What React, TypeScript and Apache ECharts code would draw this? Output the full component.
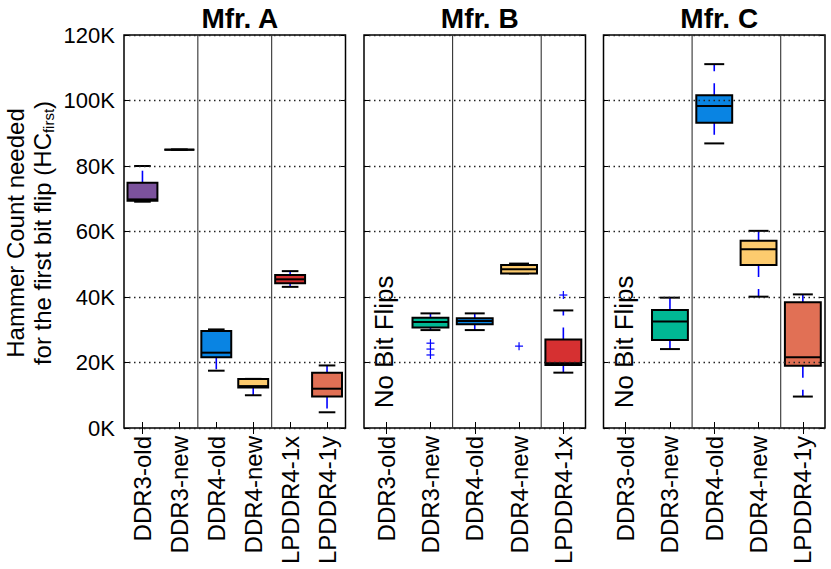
import React, { useEffect, useRef } from "react";
import * as echarts from "echarts";

const panelTitles = ["Mfr. A", "Mfr. B", "Mfr. C"];
const categoriesA = ["DDR3-old", "DDR3-new", "DDR4-old", "DDR4-new", "LPDDR4-1x", "LPDDR4-1y"];
const categoriesB = ["DDR3-old", "DDR3-new", "DDR4-old", "DDR4-new", "LPDDR4-1x"];
const categoriesC = ["DDR3-old", "DDR3-new", "DDR4-old", "DDR4-new", "LPDDR4-1y"];

// [min, q1, median, q3, max] in thousands of hammers (null = no bit flips)
const boxesA = [
  [69.1, 69.4, 69.8, 74.9, 80.0],
  [85.0, 85.0, 85.0, 85.0, 85.0],
  [17.5, 21.6, 23.0, 29.6, 30.1],
  [10.0, 12.4, 12.8, 15.0, 15.0],
  [43.1, 44.2, 45.4, 46.7, 47.9],
  [4.8, 9.6, 12.0, 16.9, 19.1],
];
const boxesB = [
  null,
  [29.9, 30.7, 32.4, 33.7, 35.0],
  [29.9, 31.7, 32.7, 33.5, 35.0],
  [47.2, 47.2, 48.5, 49.8, 50.2],
  [16.9, 19.2, 19.8, 27.0, 35.9],
];
const boxesC = [
  null,
  [24.1, 26.9, 32.5, 36.0, 39.8],
  [86.9, 93.2, 98.3, 101.6, 111.1],
  [40.1, 49.8, 54.6, 57.2, 60.2],
  [9.6, 19.0, 21.6, 38.4, 40.8],
];
// [category index, value]
const outliersA: number[][] = [];
const outliersB = [
  [1, 25.9],
  [1, 24.1],
  [1, 22.3],
  [3, 25.0],
  [4, 40.6],
];
const outliersC: number[][] = [];
// separator lines drawn after these category indices
const separatorsA = [1, 3];
const separatorsB = [1, 3];
const separatorsC = [1, 3];
// "No Bit Flips" annotation: [category index, starting value]
const noFlipsB = [[0, 6]];
const noFlipsC = [[0, 6]];
const noFlipsText = "No Bit Flips";

const yTickMax = 120;
const yTickStep = 20;

const deviceColors: Record<string, string> = {
  "DDR3-old": "#7b529c",
  "DDR3-new": "#00b894",
  "DDR4-old": "#0984e3",
  "DDR4-new": "#fdcb6e",
  "LPDDR4-1x": "#d63031",
  "LPDDR4-1y": "#e17055",
};

const FONT = "'Liberation Sans', Arial, Helvetica, sans-serif";

export default function App() {
  const ref = useRef<HTMLDivElement>(null);

  useEffect(() => {
    document.body.style.margin = "0";
    if (!ref.current) return;
    const chart = echarts.init(ref.current, undefined, { renderer: "svg" });

    const panels = [
      { cats: categoriesA, boxes: boxesA, outliers: outliersA, seps: separatorsA, noFlips: [] as number[][] },
      { cats: categoriesB, boxes: boxesB, outliers: outliersB, seps: separatorsB, noFlips: noFlipsB },
      { cats: categoriesC, boxes: boxesC, outliers: outliersC, seps: separatorsC, noFlips: noFlipsC },
    ];
    const gridLefts = [124, 364, 603.5];
    const gridWidth = 221.5;
    const gridTop = 35;
    const gridHeight = 393;

    const boxRender = (params: any, api: any) => {
      const idx = api.value(0);
      const ys = [1, 2, 3, 4, 5].map((d) => api.coord([idx, api.value(d)])[1]);
      const x = api.coord([idx, api.value(1)])[0];
      const band = api.size([1, 0])[0];
      const bw = band * 0.81;
      const cw = band * 0.45;
      const [yMin, yQ1, yMed, yQ3, yMax] = ys;
      const color = api.visual("color");
      const whisk = { stroke: "#0000ff", lineWidth: 1.6, lineDash: [12, 12] };
      const blk = { stroke: "#000", lineWidth: 2 };
      const children: any[] = [];
      if (yMin - yQ1 > 0.5)
        children.push({ type: "line", shape: { x1: x, y1: yQ1, x2: x, y2: yMin }, style: whisk });
      if (yQ3 - yMax > 0.5)
        children.push({ type: "line", shape: { x1: x, y1: yQ3, x2: x, y2: yMax }, style: whisk });
      children.push({ type: "line", shape: { x1: x - cw / 2, y1: yMin, x2: x + cw / 2, y2: yMin }, style: blk });
      children.push({ type: "line", shape: { x1: x - cw / 2, y1: yMax, x2: x + cw / 2, y2: yMax }, style: blk });
      children.push({
        type: "rect",
        shape: { x: x - bw / 2, y: yQ3, width: bw, height: Math.max(0, yQ1 - yQ3) },
        style: { fill: color, stroke: "#000", lineWidth: 2 },
      });
      children.push({ type: "line", shape: { x1: x - bw / 2, y1: yMed, x2: x + bw / 2, y2: yMed }, style: blk });
      return { type: "group", children };
    };

    const outlierRender = (params: any, api: any) => {
      const p = api.coord([api.value(0), api.value(1)]);
      const s = 4;
      const st = { stroke: "#0000ff", lineWidth: 1.2 };
      return {
        type: "group",
        children: [
          { type: "line", shape: { x1: p[0] - s, y1: p[1], x2: p[0] + s, y2: p[1] }, style: st },
          { type: "line", shape: { x1: p[0], y1: p[1] - s, x2: p[0], y2: p[1] + s }, style: st },
        ],
      };
    };

    const sepRender = (params: any, api: any) => {
      const p = api.coord([api.value(0), 0]);
      const band = api.size([1, 0])[0];
      const cs = params.coordSys;
      const x = p[0] + band / 2;
      return {
        type: "line",
        shape: { x1: x, y1: cs.y, x2: x, y2: cs.y + cs.height },
        style: { stroke: "#333", lineWidth: 1.1 },
      };
    };

    const noFlipRender = (params: any, api: any) => {
      const p = api.coord([api.value(0), api.value(1)]);
      return {
        type: "text",
        x: p[0] - 2,
        y: p[1],
        rotation: Math.PI / 2,
        style: {
          text: noFlipsText,
          fontSize: 26,
          fontFamily: FONT,
          fill: "#000",
          align: "left",
          verticalAlign: "middle",
          textAlign: "left",
          textVerticalAlign: "middle",
        },
      };
    };

    const grid: any[] = [];
    const xAxis: any[] = [];
    const yAxis: any[] = [];
    const series: any[] = [];

    panels.forEach((pn, i) => {
      grid.push({
        left: gridLefts[i],
        top: gridTop,
        width: gridWidth,
        height: gridHeight,
        show: true,
        borderColor: "#000",
        borderWidth: 1.5,
        backgroundColor: "transparent",
      });
      const tick = { show: true, inside: true, alignWithLabel: true, length: 6, lineStyle: { color: "#000", width: 1 } };
      xAxis.push({
        type: "category",
        gridIndex: i,
        data: pn.cats,
        position: "bottom",
        axisLine: { show: false },
        axisTick: tick,
        axisLabel: { rotate: 90, fontSize: 24, color: "#000", fontFamily: FONT, margin: 8, interval: 0 },
        splitLine: { show: false },
      });
      xAxis.push({
        type: "category",
        gridIndex: i,
        data: pn.cats,
        position: "top",
        axisLine: { show: false },
        axisTick: tick,
        axisLabel: { show: false },
        splitLine: { show: false },
      });
      const ytick = { show: true, inside: true, length: 5, lineStyle: { color: "#000", width: 1 } };
      yAxis.push({
        type: "value",
        gridIndex: i,
        min: 0,
        max: yTickMax,
        interval: yTickStep,
        position: "left",
        z: 5,
        axisLine: { show: false },
        axisTick: ytick,
        axisLabel: {
          show: i === 0,
          formatter: "{value}K",
          fontSize: 22,
          color: "#000",
          fontFamily: FONT,
          margin: 9,
        },
        splitLine: { show: true, lineStyle: { color: "#222", width: 1.3, type: [1.5, 3.5] } },
      });
      yAxis.push({
        type: "value",
        gridIndex: i,
        min: 0,
        max: yTickMax,
        interval: yTickStep,
        position: "right",
        axisLine: { show: false },
        axisTick: ytick,
        axisLabel: { show: false },
        splitLine: { show: false },
      });

      const boxData: any[] = [];
      pn.boxes.forEach((b, k) => {
        if (!b) return;
        boxData.push({ value: [k, ...b], itemStyle: { color: deviceColors[pn.cats[k]] } });
      });
      series.push({
        type: "custom",
        xAxisIndex: i * 2,
        yAxisIndex: i * 2,
        renderItem: sepRender,
        data: pn.seps.map((s) => [s, 0]),
        z: 1,
        silent: true,
      });
      series.push({
        type: "custom",
        xAxisIndex: i * 2,
        yAxisIndex: i * 2,
        renderItem: boxRender,
        encode: { x: 0, y: [1, 2, 3, 4, 5] },
        data: boxData,
        z: 2,
        silent: true,
      });
      if (pn.outliers.length)
        series.push({
          type: "custom",
          xAxisIndex: i * 2,
          yAxisIndex: i * 2,
          renderItem: outlierRender,
          data: pn.outliers,
          z: 3,
          silent: true,
        });
      if (pn.noFlips.length)
        series.push({
          type: "custom",
          xAxisIndex: i * 2,
          yAxisIndex: i * 2,
          renderItem: noFlipRender,
          data: pn.noFlips,
          z: 3,
          silent: true,
        });
    });

    const option: any = {
      animation: false,
      backgroundColor: "#fff",
      title: panelTitles.map((t, i) => ({
        text: t,
        left: gridLefts[i] + gridWidth / 2,
        top: -1,
        textAlign: "center",
        textStyle: { fontSize: 28, fontWeight: "bold", color: "#000", fontFamily: FONT },
      })),
      grid,
      xAxis,
      yAxis,
      series,
      graphic: [
        {
          type: "text",
          x: 29,
          y: 233,
          rotation: Math.PI / 2,
          style: {
            text: "Hammer Count needed\nfor the first bit flip (HC{s|first})",
            fontSize: 24,
            fontFamily: FONT,
            fill: "#000",
            lineHeight: 27,
            align: "center",
            verticalAlign: "middle",
            textAlign: "center",
            textVerticalAlign: "middle",
            rich: {
              s: { fontSize: 15, fontFamily: FONT, verticalAlign: "bottom", lineHeight: 27, fill: "#000", color: "#000" },
            },
          },
        },
      ],
    };
    chart.setOption(option);
    return () => chart.dispose();
  }, []);

  return <div ref={ref} style={{ width: 831, height: 569 }} />;
}
